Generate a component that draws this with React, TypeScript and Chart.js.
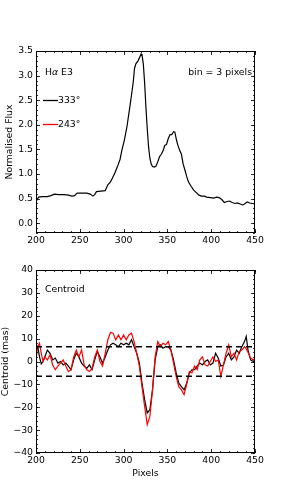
import React, { useEffect, useRef } from "react";
import { Chart, registerables } from "chart.js";

Chart.register(...registerables);

const FONT = "'DejaVu Sans', 'Bitstream Vera Sans', sans-serif";
const FS = 9.3;

// ---------- Top panel: spectrum ----------
const specX = [200, 203, 207, 213, 217, 221, 226, 232, 237, 241, 244, 247, 252, 258, 262, 265, 267, 269, 274, 279, 282, 285, 287, 290, 293, 296, 298, 301, 304, 307, 309, 311, 312.5, 314, 316.5, 318.5, 320, 321, 322.5, 324, 325.5, 327, 328.5, 330, 331.5, 333, 335, 337, 339, 341, 343, 345, 347, 349, 351, 353, 355, 357, 358.5, 360.5, 362, 364, 366, 368, 370, 372, 374, 377, 380, 383, 386, 389, 392, 395, 399, 403, 406, 409, 412, 415, 418, 421, 424, 427, 430, 433, 436, 438, 441, 444, 447, 450];
const specY = [0.44, 0.53, 0.54, 0.54, 0.56, 0.59, 0.58, 0.58, 0.57, 0.55, 0.56, 0.61, 0.61, 0.61, 0.59, 0.55, 0.58, 0.64, 0.65, 0.66, 0.78, 0.84, 0.91, 1.02, 1.15, 1.3, 1.48, 1.7, 1.98, 2.35, 2.6, 2.87, 3.15, 3.24, 3.3, 3.38, 3.44, 3.42, 3.24, 2.85, 2.35, 1.92, 1.55, 1.32, 1.2, 1.15, 1.14, 1.16, 1.25, 1.35, 1.4, 1.47, 1.58, 1.6, 1.72, 1.8, 1.8, 1.86, 1.85, 1.68, 1.58, 1.48, 1.4, 1.2, 1.08, 0.95, 0.84, 0.75, 0.67, 0.62, 0.57, 0.55, 0.55, 0.53, 0.52, 0.51, 0.53, 0.52, 0.48, 0.42, 0.44, 0.45, 0.42, 0.4, 0.41, 0.39, 0.37, 0.39, 0.43, 0.41, 0.4, 0.39];

const topYTicks = [0, 0.5, 1, 1.5, 2, 2.5, 3, 3.5];
const topYMinor = 0.1;
const topYRange = [-0.2, 3.5];

// ---------- Bottom panel: centroid ----------
const cenX = [200, 202, 204, 206, 208, 210, 213, 216, 219, 222, 225, 228, 231, 234, 237, 240, 243, 246, 249, 252, 255, 258, 261, 264, 267, 270, 273, 276, 279, 282, 285, 288, 291, 294, 297, 300, 303, 306, 309, 312, 315, 318, 321, 324, 327, 330, 333, 336, 339, 342, 345, 348, 351, 354, 357, 360, 363, 366, 369, 372, 375, 378, 381, 384, 387, 390, 393, 396, 399, 402, 405, 408, 411, 414, 417, 420, 423, 426, 429, 432, 435, 438, 440, 442, 445, 448, 450];
const cen333 = [5, 6.6, 2, -1, 0, 2, 5, 3.6, 0.7, 1.5, -0.7, 0, -1.5, -0.7, -2, -3.6, 0.7, 3.6, 2, -0.7, -2, -3, -1.5, -3.6, 0.7, 4.4, 2, -0.7, 2, 5, 7.3, 8, 7.3, 6.5, 8, 7.3, 8, 7.3, 9.5, 6.5, 3.6, -0.7, -9.5, -16.7, -22.5, -21, -12.4, 0.7, 6.5, 7.3, 5.8, 6.5, 6.5, 5, 0.7, -5, -9.5, -11, -12.4, -9.5, -5, -3.6, -3.6, -2, -0.7, -1.5, 0, 0.7, -1.5, -0.7, 3.6, 1.5, -2, -1.5, 2, 3.6, 0.7, 2, 5, 3.6, 6.5, 8.7, 11, 5, 0.7, 0, 0.7];
const cen243 = [0.7, 6.5, 8, 3.6, 0, 2, 0.7, 3, -1.5, -3.6, -2, -0.7, 0.7, -2, -4.4, -3.6, 2, 5, 2, 5, -1.5, -3.6, -4.4, -3, 2, 5, 0, -2, 3.6, 9.5, 12.7, 12.4, 9.5, 11.6, 9.5, 11.6, 9.5, 11.6, 12.4, 8.7, 3.6, -2, -11, -19.6, -27.6, -24, -12.4, 2, 8.7, 6.5, 8, 7.3, 8.7, 5, -0.7, -6.5, -11, -12.4, -14.5, -10, -4.4, -5, -2, -3.6, 0.7, 2, -1.5, -2, 0, 2, 0, 0.7, -6.5, -1.5, 3.6, 7.3, 2, 3.6, 0.7, 4.4, 5, 6.5, 5.5, 4, 1.5, 0.7, 1.5];
const dashX = [200, 450];
const dashUpper = [6.4, 6.4];
const dashLower = [-6.4, -6.4];

const botYTicks = [-40, -30, -20, -10, 0, 10, 20, 30, 40];
const botYMinor = 2;
const botYRange = [-40, 40];

const xTicks = [200, 250, 300, 350, 400, 450];
const xMinor = 10;
const xRange = [200, 450];

const legendLabels = ["333\u00B0", "243\u00B0"];
const legendColors = ["#000000", "#ff0000"];

const pts = (xs: number[], ys: number[]) => xs.map((x, i) => ({ x, y: ys[i] }));
const fmtMinus = (v: number) => (v < 0 ? "\u2212" + Math.abs(v) : String(v));

const framePlugin = {
  id: "frame",
  afterDraw(chart: any, _args: any, opts: any) {
    const { ctx, chartArea: a, scales } = chart;
    const xs = scales.x;
    const ys = scales.y;
    ctx.save();
    ctx.strokeStyle = "#000";
    ctx.lineWidth = 1;
    ctx.strokeRect(Math.round(a.left) + 0.5, Math.round(a.top) + 0.5, Math.round(a.right - a.left) - 1, Math.round(a.bottom - a.top) - 1);
    ctx.lineWidth = 0.8;
    const drawX = (v: number, len: number) => {
      const p = Math.round(xs.getPixelForValue(v)) + 0.5;
      ctx.beginPath();
      ctx.moveTo(p, a.bottom);
      ctx.lineTo(p, a.bottom - len);
      ctx.moveTo(p, a.top);
      ctx.lineTo(p, a.top + len);
      ctx.stroke();
    };
    const drawY = (v: number, len: number) => {
      const p = Math.round(ys.getPixelForValue(v)) + 0.5;
      ctx.beginPath();
      ctx.moveTo(a.left, p);
      ctx.lineTo(a.left + len, p);
      ctx.moveTo(a.right, p);
      ctx.lineTo(a.right - len, p);
      ctx.stroke();
    };
    const eps = 1e-6;
    for (let v = xRange[0]; v <= xRange[1] + eps; v += xMinor) drawX(v, 2);
    xTicks.forEach((v) => drawX(v, 4));
    const yr = opts.yRange as number[];
    const ymin = opts.yMinor as number;
    const start = Math.ceil(yr[0] / ymin - eps) * ymin;
    for (let v = start; v <= yr[1] + eps; v += ymin) drawY(v, 2);
    (opts.yTicks as number[]).forEach((v) => drawY(v, 4));

    ctx.fillStyle = "#000";
    ctx.textBaseline = "middle";
    ctx.font = `${FS}px ${FONT}`;
    if (opts.kind === "top") {
      // title "Hα E3"
      let tx = a.left + 9;
      const ty = a.top + 22;
      ctx.textAlign = "left";
      ctx.fillText("H", tx, ty);
      tx += ctx.measureText("H").width;
      ctx.font = `italic ${FS}px ${FONT}`;
      ctx.fillText("\u03B1", tx, ty);
      tx += ctx.measureText("\u03B1").width;
      ctx.font = `${FS}px ${FONT}`;
      ctx.fillText(" E3", tx, ty);
      ctx.textAlign = "right";
      ctx.fillText("bin = 3 pixels", a.right - 3, ty);
      ctx.textAlign = "left";
      legendLabels.forEach((lab, i) => {
        const ly = a.top + 49.5 + i * 24;
        ctx.strokeStyle = legendColors[i];
        ctx.lineWidth = 1.3;
        ctx.beginPath();
        ctx.moveTo(a.left + 7, ly);
        ctx.lineTo(a.left + 22, ly);
        ctx.stroke();
        ctx.fillStyle = "#000";
        ctx.fillText(lab, a.left + 22, ly);
      });
    } else {
      ctx.textAlign = "left";
      ctx.fillText("Centroid", a.left + 9, a.top + 20);
    }
    ctx.restore();
  },
};

function makeScales(yRange: number[], yTicks: number[], yTitle: string, yFmt: (v: number) => string, xHeight: number, showXTitle: boolean, yTitlePad: number) {
  return {
    x: {
      type: "linear",
      min: xRange[0],
      max: xRange[1],
      grid: { display: false, drawTicks: false },
      border: { display: false },
      ticks: { font: { family: FONT, size: FS }, color: "#000", padding: 2, maxRotation: 0, autoSkip: false },
      afterBuildTicks: (s: any) => {
        s.ticks = xTicks.map((v) => ({ value: v }));
      },
      afterFit: (s: any) => {
        s.height = xHeight;
      },
      title: {
        display: showXTitle,
        text: "Pixels",
        font: { family: FONT, size: FS },
        color: "#000",
        padding: { top: 0, bottom: 25 },
      },
    },
    y: {
      type: "linear",
      min: yRange[0],
      max: yRange[1],
      grid: { display: false, drawTicks: false },
      border: { display: false },
      ticks: { font: { family: FONT, size: FS }, color: "#000", padding: 3, autoSkip: false, callback: (v: any) => yFmt(Number(v)) },
      afterBuildTicks: (s: any) => {
        s.ticks = yTicks.map((v) => ({ value: v }));
      },
      afterFit: (s: any) => {
        s.width = 36;
      },
      title: {
        display: true,
        text: yTitle,
        font: { family: FONT, size: FS },
        color: "#000",
        padding: { top: yTitlePad, bottom: 0 },
      },
    },
  };
}

export default function App() {
  const topRef = useRef<HTMLCanvasElement | null>(null);
  const botRef = useRef<HTMLCanvasElement | null>(null);

  useEffect(() => {
    const top = new Chart(topRef.current as HTMLCanvasElement, {
      type: "line",
      data: {
        datasets: [
          { data: pts(specX, specY), borderColor: "#000", borderWidth: 1.2, pointRadius: 0, tension: 0, fill: false },
        ],
      },
      options: {
        animation: false,
        responsive: false,
        layout: { padding: { top: 51, right: 29, left: 0, bottom: 0 } },
        plugins: {
          legend: { display: false },
          tooltip: { enabled: false },
          frame: { kind: "top", yRange: topYRange, yTicks: topYTicks, yMinor: topYMinor },
        } as any,
        scales: makeScales(topYRange, topYTicks, "Normalised Flux", (v) => v.toFixed(1), 19, false, 4) as any,
      },
      plugins: [framePlugin],
    } as any);

    const bot = new Chart(botRef.current as HTMLCanvasElement, {
      type: "line",
      data: {
        datasets: [
          { data: pts(dashX, dashUpper), borderColor: "#000", borderWidth: 1.5, borderDash: [6, 4], pointRadius: 0, fill: false },
          { data: pts(dashX, dashLower), borderColor: "#000", borderWidth: 1.5, borderDash: [6, 4], pointRadius: 0, fill: false },
          { data: pts(cenX, cen243), borderColor: "#ff0000", borderWidth: 1.2, pointRadius: 0, tension: 0, fill: false },
          { data: pts(cenX, cen333), borderColor: "#000", borderWidth: 1.2, pointRadius: 0, tension: 0, fill: false },
        ],
      },
      options: {
        animation: false,
        responsive: false,
        layout: { padding: { top: 18, right: 29, left: 0, bottom: 0 } },
        plugins: {
          legend: { display: false },
          tooltip: { enabled: false },
          frame: { kind: "bot", yRange: botYRange, yTicks: botYTicks, yMinor: botYMinor },
        } as any,
        scales: makeScales(botYRange, botYTicks, "Centroid (mas)", fmtMinus, 51, true, 0) as any,
      },
      plugins: [framePlugin],
    } as any);

    return () => {
      top.destroy();
      bot.destroy();
    };
  }, []);

  return (
    <div style={{ position: "absolute", left: 0, top: 0, width: 284, height: 504, background: "#fff" }}>
      <canvas ref={topRef} width={284} height={252} style={{ display: "block", width: 284, height: 252 }} />
      <canvas ref={botRef} width={284} height={252} style={{ display: "block", width: 284, height: 252 }} />
    </div>
  );
}
